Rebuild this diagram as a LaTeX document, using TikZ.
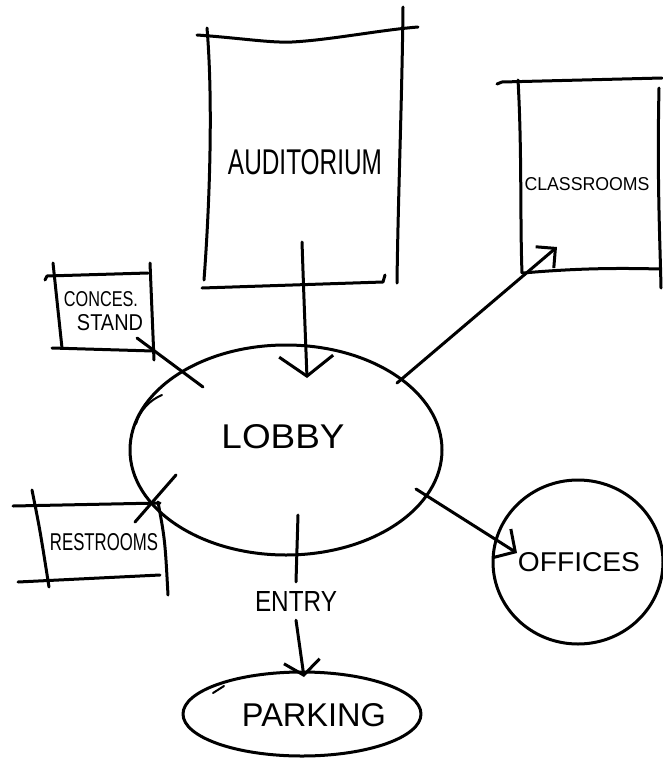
\documentclass[tikz,border=0pt]{standalone}
\usepackage{fontspec}
\setmainfont{Liberation Sans}
\usetikzlibrary{arrows.meta,shapes.geometric}
% hand lettering: text stretched to a given width and cap height (in pt)
\newcommand\hand[3]{\resizebox{#1pt}{#2pt}{#3}}
\begin{document}
\begin{tikzpicture}[x=1pt,y=-1pt,
  pen/.style={line width=3pt, line cap=round, line join=round, draw=black},
  lettering/.style={inner sep=0pt, text=black},
  barb/.style 2 args={-{Straight Barb[length=#1pt,width=#2pt]}}]
\useasboundingbox[fill=white] (0,0) rectangle (662,766);

% ---- round spaces ----
\node[ellipse, pen, minimum width=312pt, minimum height=210pt, inner sep=0pt] (lobby) at (286,450) {};
\node[ellipse, pen, minimum width=170pt, minimum height=164pt, inner sep=0pt] (offices) at (578,562) {};
\node[ellipse, pen, minimum width=238pt, minimum height=84pt, inner sep=0pt] (parking) at (302,714) {};
% second stroke on the lobby outline and start tail of the parking outline
\draw[pen, line width=2pt] (136,424) .. controls (140,410) and (150,400) .. (162,395);
\draw[pen, line width=2pt] (213,693) -- (224,686);

% ---- auditorium frame ----
\draw[pen] (197,35) .. controls (240,38) and (270,43) .. (292,42) .. controls (330,40) and (380,30) .. (418,27);
\draw[pen] (207,28) .. controls (213,100) and (210,200) .. (204,280);
\draw[pen] (403,7) .. controls (402,100) and (398,200) .. (397,283);
\draw[pen] (202,288) -- (383,282) -- (385,275);

% ---- classrooms frame ----
\draw[pen] (497,84) -- (502,82) -- (662,78);
\draw[pen] (518,80) .. controls (522,150) and (520,220) .. (522,273);
\draw[pen] (659,88) .. controls (657,180) and (660,240) .. (661,288);
\draw[pen] (523,273) .. controls (580,268) and (620,268) .. (660,269);

% ---- concession stand frame ----
\draw[pen] (45,280) -- (47,276) -- (148,273);
\draw[pen] (53,263) -- (62,348);
\draw[pen] (150,263) -- (154,360);
\draw[pen] (52,348) -- (153,351);

% ---- restrooms frame ----
\draw[pen] (13,506) -- (160,503);
\draw[pen] (32,490) .. controls (40,530) .. (49,587);
\draw[pen] (158,502) .. controls (165,540) .. (168,595);
\draw[pen] (18,582) -- (160,575);

% ---- labels ----
\node[lettering] (audlbl) at (305,162) {\hand{154}{25}{AUDITORIUM}};
\node[lettering] (classlbl) at (587,184) {\hand{125}{13}{CLASSROOMS}};
\node[lettering] (conceslbl) at (101,299) {\hand{74}{15}{CONCES.}};
\node[lettering] (standlbl) at (110,323) {\hand{66}{16}{STAND}};
\node[lettering] (restlbl) at (104,542) {\hand{108}{17}{RESTROOMS}};
\node[lettering] (lobbylbl) at (283,437) {\hand{123}{24}{LOBBY}};
\node[lettering] (officelbl) at (579,562) {\hand{122}{19}{OFFICES}};
\node[lettering] (parklbl) at (314,715) {\hand{144}{23}{PARKING}};
\node[lettering, inner ysep=9pt] (entry) at (296,601) {\hand{82}{20}{ENTRY}};

% ---- connector ends ----
\coordinate (audOut) at (302,242);
\coordinate (lobbyTop) at (307,378);
\coordinate (standOut) at (137,338);
\coordinate (lobbyNW) at (203,387);
\coordinate (restOut) at (135,522);
\coordinate (lobbySW) at (176,475);
\coordinate (lobbyNE) at (397,383);
\coordinate (classIn) at (557,247);
\coordinate (lobbyE) at (416,489);
\coordinate (officeIn) at (517,553);
\coordinate (lobbyS) at (298,515);
\coordinate (parkIn) at (304,677);

% ---- connectors ----
\draw[pen, barb={20}{54}] (audOut) .. controls (304,300) .. (lobbyTop);
\draw[pen] (standOut) -- (lobbyNW);
\draw[pen] (restOut) -- (lobbySW);
\draw[pen, barb={14}{28}] (lobbyNE) -- (classIn);
\draw[pen, barb={16}{34}] (lobbyE) -- (officeIn);
\draw[pen] (lobbyS) -- (entry.north);
\draw[pen, barb={14}{36}] (entry.south) -- (parkIn);
\end{tikzpicture}
\end{document}
